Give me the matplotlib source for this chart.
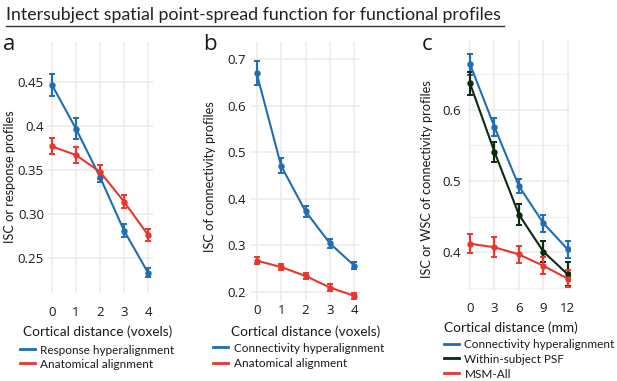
import matplotlib
matplotlib.use('Agg')
import matplotlib.pyplot as plt
from matplotlib.lines import Line2D
from matplotlib.ticker import FixedLocator, FixedFormatter

# ---------------- data ----------------
title = "Intersubject spatial point-spread function for functional profiles"

a_x = [0, 1, 2, 3, 4]
a_resp_hyper = [0.447, 0.397, 0.342, 0.281, 0.233]
a_resp_hyper_err = [0.013, 0.012, 0.006, 0.007, 0.005]
a_anat = [0.377, 0.367, 0.348, 0.314, 0.276]
a_anat_err = [0.009, 0.009, 0.008, 0.0075, 0.007]
a_yticks = [0.25, 0.30, 0.35, 0.4, 0.45]
a_yticklabels = ["0.25", "0.30", "0.35", "0.4", "0.45"]

b_x = [0, 1, 2, 3, 4]
b_conn_hyper = [0.670, 0.471, 0.373, 0.304, 0.256]
b_conn_hyper_err = [0.026, 0.016, 0.012, 0.010, 0.008]
b_anat = [0.267, 0.253, 0.234, 0.209, 0.191]
b_anat_err = [0.007, 0.007, 0.007, 0.007, 0.006]
b_yticks = [0.2, 0.3, 0.4, 0.5, 0.6, 0.7]
b_yticklabels = ["0.2", "0.3", "0.4", "0.5", "0.6", "0.7"]

c_x = [0, 3, 6, 9, 12]
c_conn_hyper = [0.664, 0.576, 0.493, 0.441, 0.404]
c_conn_hyper_err = [0.015, 0.013, 0.010, 0.012, 0.012]
c_within = [0.637, 0.541, 0.453, 0.401, 0.369]
c_within_err = [0.016, 0.014, 0.015, 0.015, 0.017]
c_msm = [0.412, 0.407, 0.397, 0.381, 0.363]
c_msm_err = [0.013, 0.014, 0.012, 0.012, 0.012]
c_yticks = [0.4, 0.5, 0.6]
c_yticklabels = ["0.4", "0.5", "0.6"]
c_yminor = [0.35, 0.45, 0.55, 0.65]

BLUE = '#1f6eb3'
RED = '#e8382e'
DARK = '#0c2a10'
GRID = '#ebebeb'
TXT = '#1a1a1a'

TICKFONT = 'Open Sans'
LABFONT = 'Lato'

W, H = 617, 381
fig = plt.figure(figsize=(W / 100, H / 100), dpi=100)


def rect(l, t, r, b):
    return [l / W, 1 - b / H, (r - l) / W, (b - t) / H]


def fx(px):
    return px / W


def fy(py):
    return 1 - py / H


def style(ax, xlim, ylim, xticks, yticks, yticklabels, xpad, ypad, minor=None):
    ax.set_xlim(*xlim)
    ax.set_ylim(*ylim)
    for s in ax.spines.values():
        s.set_visible(False)
    ax.xaxis.set_major_locator(FixedLocator(xticks))
    ax.xaxis.set_major_formatter(FixedFormatter([str(v) for v in xticks]))
    ax.yaxis.set_major_locator(FixedLocator(yticks))
    ax.yaxis.set_major_formatter(FixedFormatter(yticklabels))
    ax.tick_params(length=0, labelsize=9.5, labelcolor=TXT)
    ax.tick_params(axis='x', pad=xpad)
    ax.tick_params(axis='y', pad=ypad)
    for lab in ax.get_xticklabels() + ax.get_yticklabels():
        lab.set_fontfamily(TICKFONT)
    ax.grid(True, color=GRID, linewidth=1.1)
    if minor is not None:
        for v in minor:
            ax.axhline(v, color='#f2f2f2', linewidth=1.0, zorder=0)
    ax.set_axisbelow(True)


def series(ax, x, y, e, color, label):
    ax.errorbar(x, y, yerr=e, color=color, linewidth=1.5, elinewidth=1.6,
                capsize=2.2, capthick=1.4, marker='o', markersize=3.6,
                label=label, zorder=3)


YL = dict(fontsize=9.2, fontfamily=LABFONT, fontweight='normal', color=TXT)

# ---------- panel a ----------
axa = fig.add_axes(rect(46.7, 41.7, 153.3, 293))
series(axa, a_x, a_resp_hyper, a_resp_hyper_err, BLUE, "Response hyperalignment")
series(axa, a_x, a_anat, a_anat_err, RED, "Anatomical alignment")
style(axa, (-0.22, 4.22), (0.2098, 0.4963), a_x, a_yticks, a_yticklabels, 9, 2)
axa.set_ylabel("ISC or response profiles", **YL)
axa.yaxis.set_label_coords((16 - 46.7) / (153.3 - 46.7), 0.462)

# ---------- panel b ----------
axb = fig.add_axes(rect(251.3, 41.7, 359.7, 301))
series(axb, b_x, b_conn_hyper, b_conn_hyper_err, BLUE, "Connectivity hyperalignment")
series(axb, b_x, b_anat, b_anat_err, RED, "Anatomical alignment")
style(axb, (-0.22, 4.22), (0.18, 0.738), b_x, b_yticks, b_yticklabels, 2, 4)
axb.set_ylabel("ISC of connectivity profiles", **YL)
axb.yaxis.set_label_coords((216.5 - 251.3) / (359.7 - 251.3), 0.479)

# ---------- panel c ----------
axc = fig.add_axes(rect(466.7, 40, 570, 290))
series(axc, c_x, c_conn_hyper, c_conn_hyper_err, BLUE, "Connectivity hyperalignment")
series(axc, c_x, c_within, c_within_err, DARK, "Within-subject PSF")
series(axc, c_x, c_msm, c_msm_err, RED, "MSM-All")
style(axc, (-0.41, 12.28), (0.347, 0.698), c_x, c_yticks, c_yticklabels, 9, 4, minor=c_yminor)
axc.set_ylabel("ISC or WSC of connectivity profiles", **YL)
axc.yaxis.set_label_coords((433 - 466.7) / (570 - 466.7), 0.444)

# ---------- x labels ----------
XL = dict(ha='center', va='center', fontsize=9.8, fontfamily=LABFONT,
          fontweight='normal', color=TXT)
fig.text(fx(98), fy(331.7), "Cortical distance (voxels)", **XL)
fig.text(fx(305.3), fy(331.7), "Cortical distance (voxels)", **XL)
fig.text(fx(511), fy(328), "Cortical distance (mm)", **XL)


# ---------- legends (manual) ----------
def legend(ax, x0, y0, step):
    handles, labels = ax.get_legend_handles_labels()
    for i, (h, lab) in enumerate(zip(handles, labels)):
        col = h[0].get_color()
        y = y0 + i * step
        fig.add_artist(Line2D([fx(x0), fx(x0 + 15)], [fy(y), fy(y)], color=col,
                              linewidth=2.0, transform=fig.transFigure))
        fig.text(fx(x0 + 20.5), fy(y), lab, ha='left', va='center_baseline',
                 fontsize=8.5, fontfamily=LABFONT, fontweight='normal', color=TXT)


legend(axa, 20, 349.3, 14)
legend(axb, 213, 347, 15.5)
legend(axc, 444, 343.5, 14.8)

# ---------- panel letters ----------
for px, lab in [(3, 'a'), (203, 'b'), (422, 'c')]:
    fig.text(fx(px), fy(50), lab, ha='left', va='baseline', fontsize=16,
             fontfamily=TICKFONT, color=TXT)

# ---------- title ----------
fig.text(fx(6), fy(20), title, ha='left', va='baseline', fontsize=12.8,
         fontfamily=LABFONT, fontweight='normal', color='#222222')
fig.add_artist(Line2D([fx(6), fx(504)], [fy(25.7), fy(25.7)], color='#333333',
                      linewidth=1.0, transform=fig.transFigure))

fig.savefig('out.png', dpi=100)
